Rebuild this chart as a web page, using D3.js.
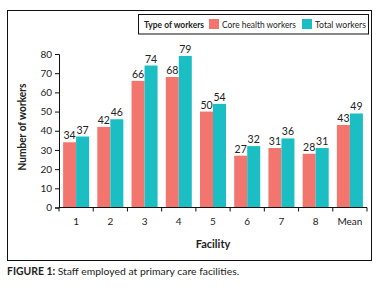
<!DOCTYPE html>
<html>
<head>
<meta charset="utf-8">
<script src="https://cdn.jsdelivr.net/npm/d3@7"></script>
<style>
  body { margin: 0; background: #fff; font-family: Lato, "Open Sans", sans-serif; }
  svg text { fill: #222; }
</style>
</head>
<body>
<script>

// data
var facilities = ["1", "2", "3", "4", "5", "6", "7", "8", "Mean"]
var coreWorkers = [34, 42, 66, 68, 50, 27, 31, 28, 43]
var totalWorkers = [37, 46, 74, 79, 54, 32, 36, 31, 49]
var seriesNames = ["Core health workers", "Total workers"]
var seriesColors = ["#F2756E", "#1BBEC2"]
var yTicks = [0, 10, 20, 30, 40, 50, 60, 70, 80]

var width = 380, height = 288

var svg = d3.select("body")
            .append("svg")
            .attr("width", width)
            .attr("height", height)

// outer frame
svg.append("rect")
   .attr("x", 7.5).attr("y", 10.5)
   .attr("width", 364).attr("height", 250)
   .attr("fill", "none")
   .attr("stroke", "#111")
   .attr("stroke-width", 1)

var margin = {left: 59, right: 13, top: 54, bottom: 81}

var x = d3.scaleBand()
          .domain(facilities)
          .range([margin.left, 367])
          .paddingInner(0.24)
          .paddingOuter(0.12)

var x1 = d3.scaleBand()
           .domain(seriesNames)
           .range([0, x.bandwidth()])

var y = d3.scaleLinear()
          .domain([0, 80])
          .range([207.5, 54])

var rows = facilities.map(function(f, i) {
  return {name: f, values: [coreWorkers[i], totalWorkers[i]]}
})

// bars
var groups = svg.append("g")
   .selectAll("g")
   .data(rows)
   .enter().append("g")
   .attr("transform", function(d) { return "translate(" + x(d.name) + ",0)" })

groups.selectAll("rect")
   .data(function(d) { return d.values.map(function(v, j) { return {v: v, s: seriesNames[j], c: seriesColors[j]} }) })
   .enter().append("rect")
   .attr("x", function(d) { return x1(d.s) })
   .attr("width", x1.bandwidth())
   .attr("y", function(d) { return y(d.v) })
   .attr("height", function(d) { return y(0) - y(d.v) })
   .attr("fill", function(d) { return d.c })

groups.selectAll("text")
   .data(function(d) { return d.values.map(function(v, j) { return {v: v, s: seriesNames[j]} }) })
   .enter().append("text")
   .attr("x", function(d) { return x1(d.s) + x1.bandwidth() / 2 })
   .attr("y", function(d) { return y(d.v) - 3 })
   .attr("text-anchor", "middle")
   .style("font-size", "10.5px")
   .text(function(d) { return d.v })

// axes
var yAxis = svg.append("g")
   .attr("transform", "translate(" + margin.left + ",0)")
   .call(d3.axisLeft(y).tickValues(yTicks).tickSize(4).tickPadding(3))
yAxis.selectAll("text").style("font-size", "10px").style("font-family", "Lato, sans-serif")
yAxis.selectAll("line, path").attr("stroke", "#111")

var xAxis = svg.append("g")
   .attr("transform", "translate(0," + y(0) + ")")
   .call(d3.axisBottom(x).tickSize(0).tickPadding(10))
xAxis.selectAll("text").style("font-size", "10px").style("font-family", "Lato, sans-serif")
xAxis.select("path").attr("d", "M" + margin.left + ",0V0H367V0").attr("stroke", "#111")

// x ticks at band edges
var edges = facilities.map(function(f) { return x(f) - x.step() * x.paddingInner() / 2 })
edges.push(367)
xAxis.selectAll(".edge")
   .data(edges)
   .enter().append("line")
   .attr("class", "edge")
   .attr("x1", function(d) { return d }).attr("x2", function(d) { return d })
   .attr("y1", 0).attr("y2", 4)
   .attr("stroke", "#111")

// axis titles
svg.append("text")
   .attr("x", (margin.left + 367) / 2)
   .attr("y", 248)
   .attr("text-anchor", "middle")
   .style("font-size", "11px")
   .style("font-weight", "bold")
   .text("Facility")

svg.append("text")
   .attr("transform", "translate(26,127) rotate(-90)")
   .attr("text-anchor", "middle")
   .attr("textLength", 87)
   .attr("lengthAdjust", "spacingAndGlyphs")
   .style("font-size", "11px")
   .style("font-weight", "bold")
   .text("Number of workers")

// legend
var legend = svg.append("g")
svg.append("rect")
   .attr("x", 138.5).attr("y", 14.5)
   .attr("width", 230).attr("height", 19.5)
   .attr("fill", "none").attr("stroke", "#111")

legend.append("text")
   .attr("x", 144).attr("y", 28)
   .attr("textLength", 60)
   .attr("lengthAdjust", "spacingAndGlyphs")
   .style("font-size", "9.5px").style("font-weight", "bold")
   .text("Type of workers")

var legX = [209, 302]
var legW = [74, 51]
seriesNames.forEach(function(s, i) {
  legend.append("rect")
     .attr("x", legX[i]).attr("y", 19)
     .attr("width", 10).attr("height", 10)
     .attr("fill", seriesColors[i])
  legend.append("text")
     .attr("x", legX[i] + 13).attr("y", 28)
     .attr("textLength", legW[i])
     .attr("lengthAdjust", "spacingAndGlyphs")
     .style("font-size", "9.5px")
     .text(s)
})

// caption
var cap = svg.append("text")
   .attr("x", 7).attr("y", 275)
   .style("font-size", "10.4px")
cap.append("tspan").style("font-weight", "bold").text("FIGURE 1: ")
cap.append("tspan").text("Staff employed at primary care facilities.")

</script>
</body>
</html>
